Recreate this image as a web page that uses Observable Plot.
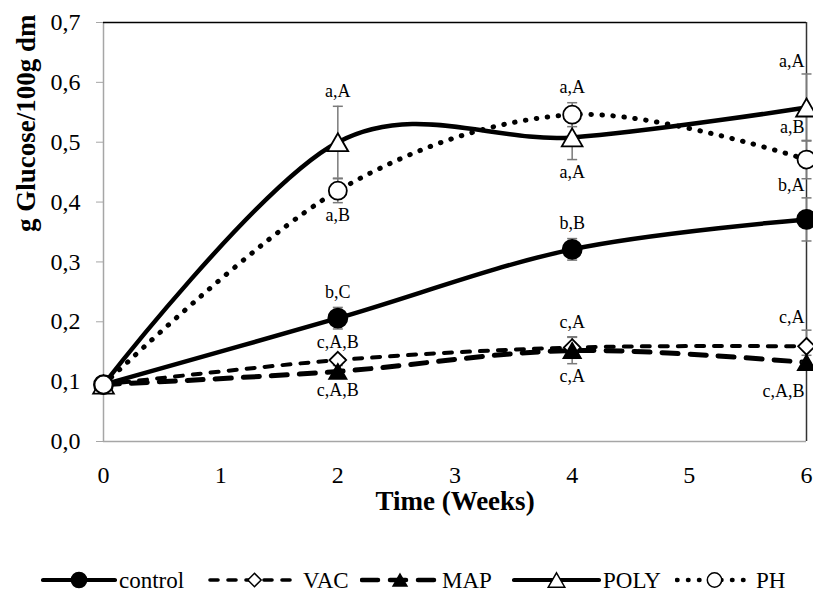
<!DOCTYPE html>
<html><head><meta charset="utf-8">
<script src="https://cdn.jsdelivr.net/npm/d3@7"></script>
<script src="https://cdn.jsdelivr.net/npm/@observablehq/plot@0.6"></script>
<style>
body{margin:0;background:#fff;font-family:"Liberation Serif",serif;}
#chart{position:relative;width:813px;height:593px;overflow:hidden;background:#fff}
#legend{position:absolute;left:0;top:567px;width:813px;height:26px}
.item{position:absolute;top:0;height:26px;line-height:1;display:flex;align-items:center;font-family:"Liberation Serif",serif;font-size:23px;color:#000;white-space:nowrap}
.item svg{display:block;margin-right:2px}
svg text{font-family:"Liberation Serif",serif}
</style></head><body><div id="chart"><div id="plot"></div><div id="legend"></div></div>
<script>
// ---- data ----
const weeks = [0, 2, 4, 6];
const seriesNames = ["control", "VAC", "MAP", "POLY", "PH"];
const controlValues = [0.095, 0.206, 0.321, 0.371];
const vacValues     = [0.095, 0.136, 0.157, 0.159];
const mapValues     = [0.095, 0.117, 0.152, 0.132];
const polyValues    = [0.095, 0.500, 0.508, 0.558];
const phValues      = [0.095, 0.419, 0.546, 0.471];
const controlErr = [0, 0.018, 0.018, 0.036];
const vacErr     = [0, 0.004, 0.018, 0.027];
const mapErr     = [0, 0.010, 0.022, 0.012];
const polyErr    = [0, 0.060, 0.037, 0.056];
const phErr      = [0, 0.020, 0.020, 0.032];
const controlLabels = ["", "b,C", "b,B", "b,A"];
const vacLabels     = ["", "c,A,B", "c,A", "c,A"];
const mapLabels     = ["", "c,A,B", "c,A", "c,A,B"];
const polyLabels    = ["", "a,A", "a,A", "a,A"];
const phLabels      = ["", "a,B", "a,A", "a,B"];
const controlSide = ["", "above", "above", "above"];
const vacSide     = ["", "above", "above", "above"];
const mapSide     = ["", "below", "below", "below"];
const polySide    = ["", "above", "below", "above"];
const phSide      = ["", "below", "above", "above"];
const xTicks = [0, 1, 2, 3, 4, 5, 6];
const yTicks = [0, 0.1, 0.2, 0.3, 0.4, 0.5, 0.6, 0.7];
const xTitle = "Time (Weeks)";
const yTitle = "g Glucose/100g dm";

// ---- table ----
const valuesBy = {control: controlValues, VAC: vacValues, MAP: mapValues, POLY: polyValues, PH: phValues};
const errBy = {control: controlErr, VAC: vacErr, MAP: mapErr, POLY: polyErr, PH: phErr};
const labelsBy = {control: controlLabels, VAC: vacLabels, MAP: mapLabels, POLY: polyLabels, PH: phLabels};
const sideBy = {control: controlSide, VAC: vacSide, MAP: mapSide, POLY: polySide, PH: phSide};
const rows = seriesNames.flatMap(s => weeks.map((w, i) => ({
  series: s, week: w, value: valuesBy[s][i], err: errBy[s][i], label: labelsBy[s][i], side: sideBy[s][i]
})));

// ---- styles ----
const triangle = {draw(ctx, size) { const r = Math.sqrt(size / Math.PI); const hw = r * 1.15, h = r * 2.0;
  ctx.moveTo(0, -h / 2); ctx.lineTo(hw, h / 2); ctx.lineTo(-hw, h / 2); ctx.closePath(); }};
const capSym = {draw(ctx, size) { ctx.moveTo(-5, 0); ctx.lineTo(5, 0); }};
const style = {
  control: {dash: null, width: 4.5, cap: "round", symbol: "circle", fill: "#000", r: 9.5},
  VAC: {dash: "8 10", width: 4, cap: "round", symbol: "diamond2", fill: "#fff", r: 7.5},
  MAP: {dash: "16 12", width: 5, cap: "round", symbol: triangle, fill: "#000", r: 7.5},
  POLY: {dash: null, width: 4.5, cap: "round", symbol: triangle, fill: "#fff", r: 9},
  PH: {dash: "0.5 10.5", width: 5, cap: "round", symbol: "circle", fill: "#fff", r: 9}
};
const serif = "Liberation Serif, serif";
const fmtY = d => d.toFixed(1).replace(".", ",");
const fmtX = d => String(d);
const labelY = d => d.side === "above" ? d.value + d.err : d.value - d.err;
const lab = rows.filter(d => d.label);

const marks = [
  Plot.ruleY([0], {stroke: "#a6a6a6", strokeWidth: 1.5}),
  Plot.ruleX([0], {stroke: "#a6a6a6", strokeWidth: 1.5}),
  Plot.ruleY([0.7], {stroke: "#000", strokeWidth: 1.5}),
  Plot.ruleX([6], {stroke: "#333", strokeWidth: 1.5}),
  Plot.axisY(yTicks, {tickSize: 7, tickPadding: 16, stroke: "#a6a6a6", fontSize: 24, fontFamily: serif, tickFormat: fmtY, label: null}),
  Plot.axisX(xTicks, {tickSize: 0, tickPadding: 24, fontSize: 24, fontFamily: serif, tickFormat: fmtX, label: null}),
  Plot.text([yTitle], {frameAnchor: "left", rotate: -90, dx: -77, fontWeight: "bold", fontSize: 27, fontFamily: serif}),
  Plot.text([xTitle], {frameAnchor: "bottom", dy: 68, fontWeight: "bold", fontSize: 27, fontFamily: serif}),
  ...seriesNames.map(s => Plot.line(rows.filter(d => d.series === s), {
    x: "week", y: "value", curve: "cardinal", tension: 0, stroke: "#000",
    strokeWidth: style[s].width, strokeDasharray: style[s].dash, strokeLinecap: style[s].cap, strokeLinejoin: "round"
  })),
  Plot.ruleX(rows.filter(d => d.err > 0), {x: "week", y1: d => d.value - d.err, y2: d => d.value + d.err, stroke: "#7a7a7a", strokeWidth: 1.5}),
  Plot.dot(rows.filter(d => d.err > 0).flatMap(d => [{week: d.week, y: d.value - d.err}, {week: d.week, y: d.value + d.err}]),
    {x: "week", y: "y", symbol: capSym, r: 5, fill: "none", stroke: "#7a7a7a", strokeWidth: 1.5}),
  ...seriesNames.map(s => Plot.dot(rows.filter(d => d.series === s), {
    x: "week", y: "value", symbol: style[s].symbol, r: style[s].r, fill: style[s].fill, stroke: "#000", strokeWidth: 1.8
  })),
  Plot.text(lab.filter(d => d.week !== 6 && d.side === "above"), {x: "week", y: labelY, text: "label", dy: -15, fontSize: 18, fontFamily: serif}),
  Plot.text(lab.filter(d => d.week !== 6 && d.side === "below"), {x: "week", y: labelY, text: "label", dy: 13, fontSize: 18, fontFamily: serif}),
  Plot.text(lab.filter(d => d.week === 6 && d.side === "above"), {x: "week", y: labelY, text: "label", dy: -13, dx: -2, textAnchor: "end", fontSize: 18, fontFamily: serif}),
  Plot.text(lab.filter(d => d.week === 6 && d.side === "below"), {x: "week", y: labelY, text: "label", dy: 22, dx: -2, textAnchor: "end", fontSize: 18, fontFamily: serif})
];

const chart = Plot.plot({
  width: 813, height: 566,
  marginLeft: 103, marginRight: 7, marginTop: 22, marginBottom: 125,
  x: {domain: [0, 6], label: null},
  y: {domain: [0, 0.7], label: null},
  style: {fontFamily: serif, color: "#000", background: "#fff", overflow: "visible"},
  marks
});
document.getElementById("plot").appendChild(chart);

// ---- legend ----
const legendLayout = {control: [41, 76], VAC: [208, 93], MAP: [360, 80], POLY: [512, 89], PH: [675, 79]};
const legend = d3.select("#legend");
for (const s of seriesNames) {
  const [left, w] = legendLayout[s];
  const st = style[s];
  const item = legend.append("div").attr("class", "item").style("left", left + "px");
  const svg = item.append("svg").attr("width", w).attr("height", 26);
  svg.append("line").attr("x1", 2).attr("x2", w - 2).attr("y1", 13).attr("y2", 13)
    .attr("stroke", "#000").attr("stroke-width", st.width * 0.9)
    .attr("stroke-dasharray", st.dash).attr("stroke-linecap", st.cap);
  const sym = typeof st.symbol === "string" ? (st.symbol === "circle" ? d3.symbolCircle : d3.symbolDiamond2) : st.symbol;
  svg.append("path").attr("transform", `translate(${w / 2},13)`)
    .attr("d", d3.symbol(sym, Math.PI * (st.r * 0.8) ** 2)())
    .attr("fill", st.fill).attr("stroke", "#000").attr("stroke-width", 1.5);
  item.append("span").text(s);
}
</script></body></html>
